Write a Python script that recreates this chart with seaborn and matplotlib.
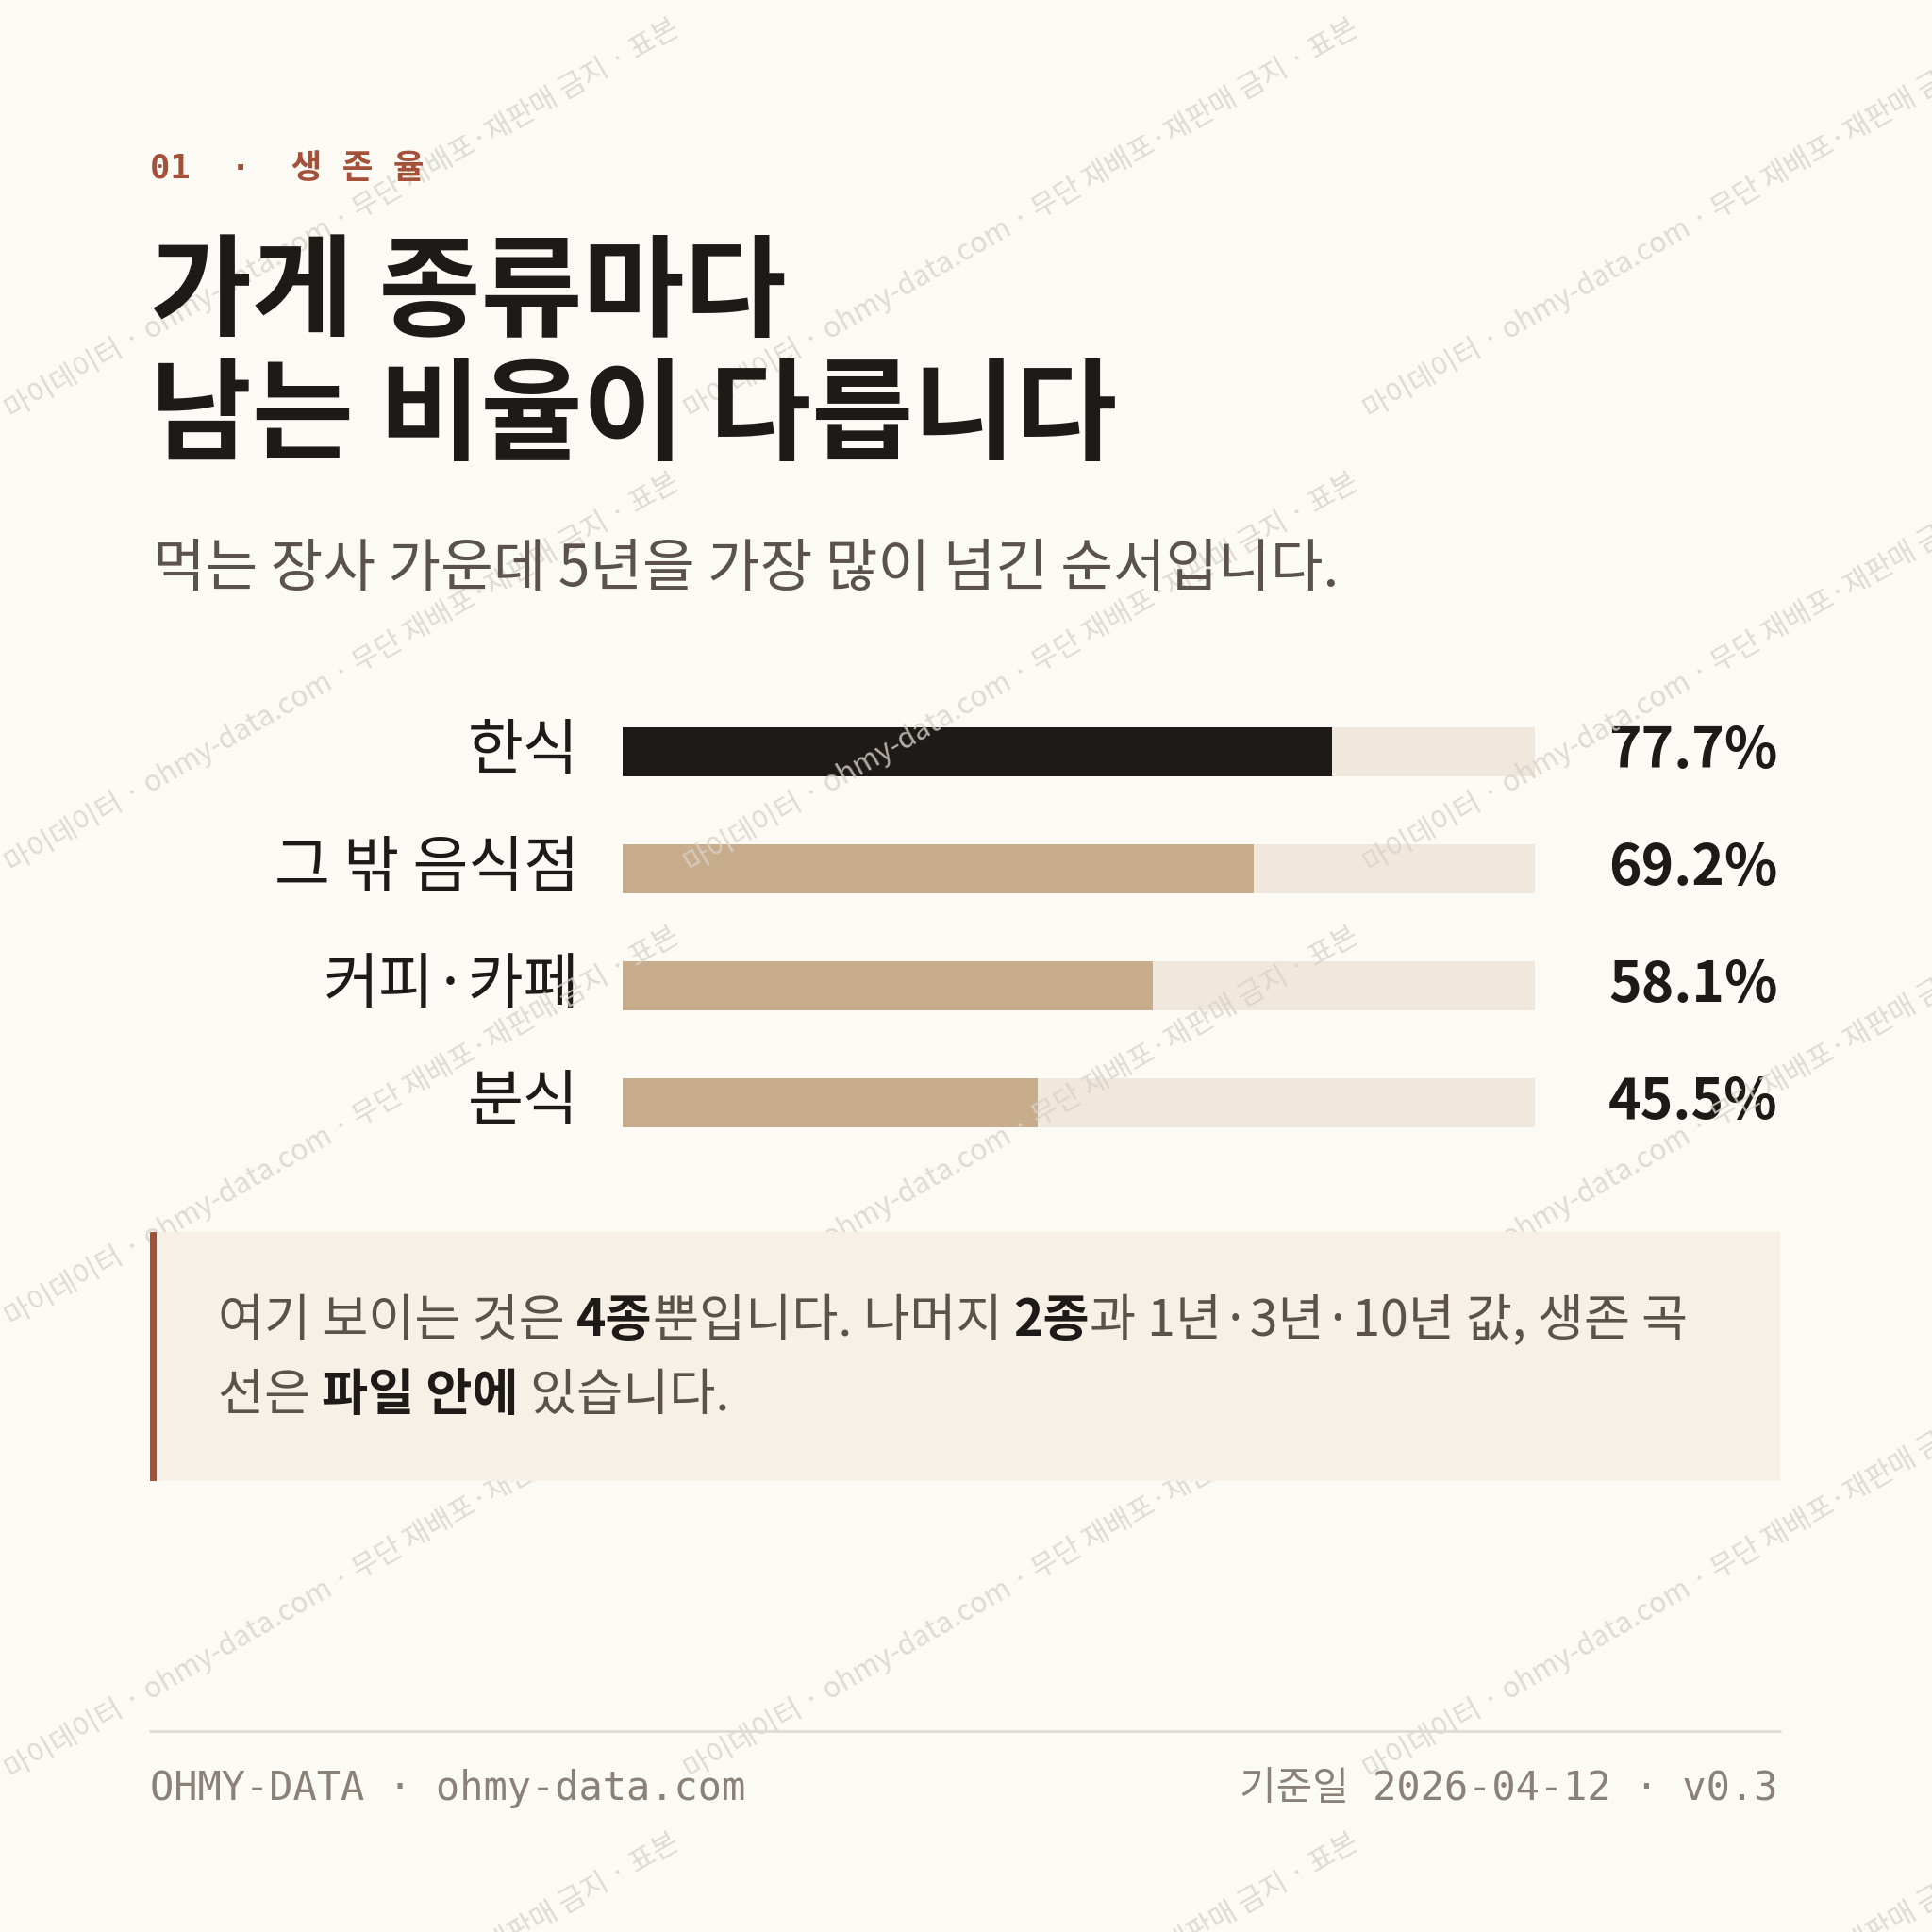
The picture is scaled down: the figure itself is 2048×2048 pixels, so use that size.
import matplotlib
matplotlib.use("Agg")
import matplotlib.pyplot as plt
import seaborn as sns
import pandas as pd
import matplotlib.transforms as mt
from matplotlib.patches import Rectangle

categories = ["한식", "그 밖 음식점", "커피·카페", "분식"]
values = [77.7, 69.2, 58.1, 45.5]
value_labels = ["77.7%", "69.2%", "58.1%", "45.5%"]

sns.set_theme(style="white")
KR = ["Noto Sans CJK KR", "DejaVu Sans"]
MONO = ["DejaVu Sans Mono", "Noto Sans CJK KR"]
plt.rcParams['font.family'] = KR

BG = "#FCFAF5"
INK = "#1E1A17"
TAN = "#C8AD8D"
TRACK = "#F0E8DC"
RUST = "#A4513A"
GRAY = "#8A8178"

W = 1568.0
fig = plt.figure(figsize=(8, 8), dpi=256, facecolor=BG)

def fx(x): return x / W
def fy(y): return 1 - y / W

# watermark
wm = "마이데이터 · ohmy-data.com · 무단 재배포·재판매 금지 · 표본"
for row in range(-2, 7):
    for col in range(-1, 4):
        x = 0 + col * 551
        y = 1650 - row * 368
        fig.text(fx(x), fy(y), wm, rotation=30, fontsize=8.5, color="#D8D2CA",
                 alpha=0.8, ha="left", va="center", zorder=0, fontweight="light")

fig.text(fx(122), fy(137), "01  ·  생 존 율", fontsize=10, color=RUST, family=MONO,
         fontweight="bold", va="center")
fig.text(fx(122), fy(240), "가게 종류마다", fontsize=33, fontweight="bold", color=INK, va="center")
fig.text(fx(122), fy(340), "남는 비율이 다릅니다", fontsize=33, fontweight="bold", color=INK, va="center")
fig.text(fx(124), fy(462), "먹는 장사 가운데 5년을 가장 많이 넘긴 순서입니다.", fontsize=17,
         color="#5A524B", va="center", fontweight="light")

# bars
ax = fig.add_axes([fx(505), fy(942.5), fx(1246) - fx(505), (942.5 - 562.5) / W])
ax.set_facecolor("none")
df = pd.DataFrame({"cat": categories, "val": values, "full": [100] * len(values)})
sns.barplot(data=df, y="cat", x="full", color=TRACK, width=0.42, ax=ax, saturation=1, linewidth=0)
sns.barplot(data=df, y="cat", x="val", palette=[INK] + [TAN] * 3, hue="cat",
            legend=False, width=0.42, ax=ax, saturation=1, linewidth=0)
ax.set_xlim(0, 100)
ax.set_ylim(len(categories) - 0.5, -0.5)
for s in ax.spines.values():
    s.set_visible(False)
ax.set_xticks([]); ax.set_yticks([])
ax.set_xlabel(""); ax.set_ylabel("")
tr = mt.blended_transform_factory(fig.transFigure, ax.transData)
for i, (c, lab) in enumerate(zip(categories, value_labels)):
    ax.text(fx(470), i, c, transform=tr, fontsize=18, color=INK, ha="right", va="center")
    ax.text(fx(1443), i, lab, transform=tr, fontsize=16.5, color=INK, ha="right",
            va="center", fontweight="bold")

# note box
fig.patches.append(Rectangle((fx(122), fy(1202)), fx(1445) - fx(122), (1202 - 1000) / W,
                             transform=fig.transFigure, facecolor="#F6F0E7", edgecolor="none", zorder=1))
fig.patches.append(Rectangle((fx(122), fy(1202)), 5 / W, (1202 - 1000) / W,
                             transform=fig.transFigure, facecolor=RUST, edgecolor="none", zorder=2))

fig.canvas.draw()
renderer = fig.canvas.get_renderer()

def runs(x0, y, parts):
    x = fx(x0)
    for txt, bold in parts:
        t = fig.text(x, fy(y), txt, fontsize=15, color=INK if bold else "#5A524B",
                     fontweight="bold" if bold else "light", va="center", zorder=3)
        bb = t.get_window_extent(renderer)
        x += bb.width / fig.bbox.width

runs(177, 1072, [("여기 보이는 것은 ", False), ("4종", True), ("뿐입니다. 나머지 ", False),
                 ("2종", True), ("과 1년·3년·10년 값, 생존 곡", False)])
runs(177, 1133, [("선은 ", False), ("파일 안에", True), (" 있습니다.", False)])

# footer
fig.add_artist(plt.Line2D([fx(122), fx(1445)], [fy(1405)] * 2, color="#E2DBD1", lw=0.8))
fig.text(fx(122), fy(1452), "OHMY-DATA · ohmy-data.com", family=MONO, fontsize=11.8,
         color=GRAY, va="center")
fig.text(fx(1443), fy(1452), "기준일 2026-04-12 · v0.3", family=MONO, fontsize=11.8,
         color=GRAY, va="center", ha="right")

fig.savefig("out.png", dpi=256, facecolor=BG)
